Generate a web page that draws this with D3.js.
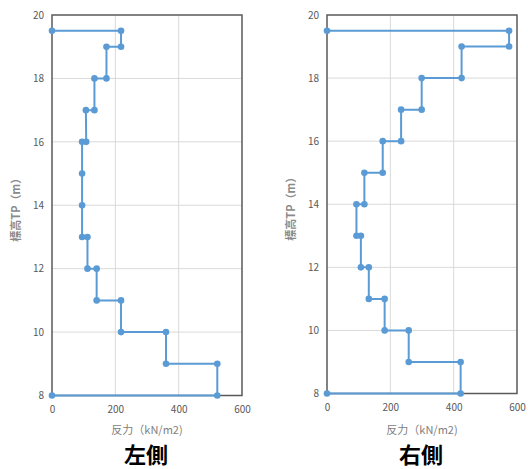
<!DOCTYPE html>
<html>
<head>
<meta charset="utf-8">
<script src="https://cdn.jsdelivr.net/npm/d3@7"></script>
<style>
  html, body { margin: 0; padding: 0; background: #fff; }
  svg { display: block; }
</style>
</head>
<body>
<svg id="chart" width="528" height="469"></svg>
<script>
// ---- data ----
const xTicks = [0, 200, 400, 600];
const yTicks = [8, 10, 12, 14, 16, 18, 20];
const panelTitles = ["左側", "右側"];
const xAxisTitle = "反力（kN/m2)";
const yAxisTitle = "標高TP（m）";

// left side: reaction (kN/m2) and elevation (m), step path
const leftX = [0, 218, 218, 172, 172, 134, 134, 107, 108, 95, 95, 95, 95, 112, 112, 141, 141, 218, 218, 360, 360, 522, 522, 0];
const leftY = [19.5, 19.5, 19, 19, 18, 18, 17, 17, 16, 16, 15, 14, 13, 13, 12, 12, 11, 11, 10, 10, 9, 9, 8, 8];

// right side
const rightX = [0, 575, 575, 425, 425, 299, 299, 234, 234, 176, 176, 118, 118, 93, 93, 107, 107, 132, 132, 182, 182, 258, 258, 422, 422, 0];
const rightY = [19.5, 19.5, 19, 19, 18, 18, 17, 17, 16, 16, 15, 15, 14, 14, 13, 13, 12, 12, 11, 11, 10, 10, 9, 9, 8, 8];

const svg = d3.select("#chart");
const FONT = "'Noto Sans CJK JP', 'Noto Sans', sans-serif";
const BLUE = "#5b9bd5";

function drawPanel(xs, ys, title, box) {
  const g = svg.append("g");
  const x = d3.scaleLinear().domain([0, 600]).range([box.x0, box.x1]);
  const y = d3.scaleLinear().domain([8, 20]).range([box.y1, box.y0]);

  // gridlines
  g.append("g").selectAll("line.v").data(xTicks.filter(t => t > 0 && t < 600)).join("line")
    .attr("x1", d => x(d)).attr("x2", d => x(d))
    .attr("y1", y(20)).attr("y2", y(8))
    .attr("stroke", "#d9d9d9").attr("stroke-width", 1);
  g.append("g").selectAll("line.h").data(yTicks.filter(t => t > 8 && t < 20)).join("line")
    .attr("x1", x(0)).attr("x2", x(600))
    .attr("y1", d => y(d)).attr("y2", d => y(d))
    .attr("stroke", "#d9d9d9").attr("stroke-width", 1);

  // frame
  g.append("rect")
    .attr("x", x(0)).attr("y", y(20))
    .attr("width", x(600) - x(0)).attr("height", y(8) - y(20))
    .attr("fill", "none").attr("stroke", "#595959").attr("stroke-width", 1.5);

  // axes (labels only)
  const yAxis = d3.axisLeft(y).tickValues(yTicks).tickSize(0).tickPadding(8);
  const ya = g.append("g").attr("transform", `translate(${x(0)},0)`).call(yAxis);
  ya.select(".domain").remove();
  ya.selectAll("text").attr("font-family", FONT).attr("font-size", 10).attr("fill", "#595959");

  const xAxis = d3.axisBottom(x).tickValues(xTicks).tickSize(0).tickPadding(10);
  const xa = g.append("g").attr("transform", `translate(0,${y(8)})`).call(xAxis);
  xa.select(".domain").remove();
  xa.selectAll("text").attr("font-family", FONT).attr("font-size", 10).attr("fill", "#595959");

  // axis titles
  g.append("text")
    .attr("x", (x(0) + x(600)) / 2).attr("y", 433.5)
    .attr("text-anchor", "middle")
    .attr("font-family", FONT).attr("font-size", 11).attr("fill", "#808080")
    .text(xAxisTitle);
  g.append("text")
    .attr("transform", `translate(${box.ytx},${(y(20) + y(8)) / 2 + 2}) rotate(-90)`)
    .attr("text-anchor", "middle").attr("dominant-baseline", "central")
    .attr("font-family", FONT).attr("font-size", 11).attr("font-weight", "bold").attr("fill", "#8a8a8a")
    .text(yAxisTitle);

  // data line
  const pts = xs.map((v, i) => [v, ys[i]]);
  const line = d3.line().x(d => x(d[0])).y(d => y(d[1]));
  g.append("path").datum(pts)
    .attr("d", line).attr("fill", "none")
    .attr("stroke", BLUE).attr("stroke-width", 2);
  g.append("g").selectAll("circle").data(pts).join("circle")
    .attr("cx", d => x(d[0])).attr("cy", d => y(d[1]))
    .attr("r", 3.3).attr("fill", BLUE);

  // panel title
  g.append("text")
    .attr("x", (x(0) + x(600)) / 2 - 1).attr("y", 463)
    .attr("text-anchor", "middle")
    .attr("font-family", FONT).attr("font-size", 22).attr("font-weight", "bold").attr("fill", "#000")
    .text(title);
}

drawPanel(leftX, leftY, panelTitles[0], { x0: 52, x1: 242, y0: 15, y1: 395.5, ytx: 15 });
drawPanel(rightX, rightY, panelTitles[1], { x0: 327, x1: 517, y0: 15, y1: 393.5, ytx: 290 });
</script>
</body>
</html>
